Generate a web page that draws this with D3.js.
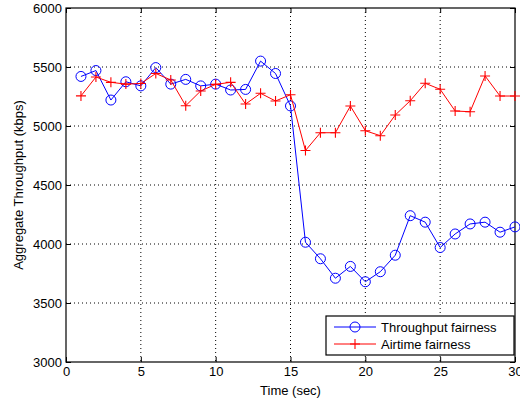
<!DOCTYPE html>
<html>
<head>
<meta charset="utf-8">
<script src="https://cdn.jsdelivr.net/npm/d3@7"></script>
<style>
  body { margin: 0; background: #fff; }
  text { font-family: "Liberation Sans", Arial, Helvetica, sans-serif; }
</style>
</head>
<body>
<div id="chart"></div>
<script>
// time axis values (sec)
var times = d3.range(1, 31);

// Throughput fairness (kbps)
var throughputFair = [5420, 5470, 5220, 5375, 5340, 5495, 5355, 5395, 5340, 5355,
                      5305, 5310, 5550, 5445, 5170, 4015, 3875, 3710, 3810, 3680,
                      3765, 3905, 4240, 4185, 3970, 4085, 4170, 4185, 4100, 4145];

// Airtime fairness (kbps)
var airtimeFair = [5255, 5415, 5370, 5355, 5360, 5445, 5390, 5172, 5297, 5353,
                   5370, 5186, 5277, 5212, 5265, 4792, 4943, 4943, 5169, 4960,
                   4918, 5093, 5214, 5362, 5311, 5127, 5121, 5424, 5254, 5254];

var xTicks = [0, 5, 10, 15, 20, 25, 30];
var yTicks = [3000, 3500, 4000, 4500, 5000, 5500, 6000];

var series = [
  { name: "Throughput fairness", values: throughputFair, color: "#0000ff", marker: "circle" },
  { name: "Airtime fairness", values: airtimeFair, color: "#ff0000", marker: "plus" }
];

var svgWidth = 520, svgHeight = 402;
var margin = { top: 8, right: 5, bottom: 40, left: 66 };
var width = svgWidth - margin.left - margin.right;
var height = svgHeight - margin.top - margin.bottom;

var svg = d3.select("#chart").append("svg")
  .attr("width", svgWidth)
  .attr("height", svgHeight);

var chartGroup = svg.append("g")
  .attr("transform", `translate(${margin.left}, ${margin.top})`);

var xScale = d3.scaleLinear().domain([0, 30]).range([0, width]);
var yScale = d3.scaleLinear().domain([3000, 6000]).range([height, 0]);

// grid lines (dotted)
chartGroup.append("g").selectAll("line")
  .data(xTicks.slice(1, -1))
  .enter().append("line")
  .attr("x1", d => xScale(d)).attr("x2", d => xScale(d))
  .attr("y1", 0).attr("y2", height)
  .attr("stroke", "#000").attr("stroke-width", 1)
  .attr("stroke-dasharray", "1,3");

chartGroup.append("g").selectAll("line")
  .data(yTicks.slice(1, -1))
  .enter().append("line")
  .attr("y1", d => yScale(d)).attr("y2", d => yScale(d))
  .attr("x1", 0).attr("x2", width)
  .attr("stroke", "#000").attr("stroke-width", 1)
  .attr("stroke-dasharray", "1,3");

// axes with inward ticks
var fmt = d3.format("d");
var bottomAxis = d3.axisBottom(xScale).tickValues(xTicks).tickFormat(fmt).tickSizeInner(-5).tickSizeOuter(0).tickPadding(5);
var leftAxis = d3.axisLeft(yScale).tickValues(yTicks).tickFormat(fmt).tickSizeInner(-5).tickSizeOuter(0).tickPadding(4);
var topAxis = d3.axisTop(xScale).tickValues(xTicks).tickSizeInner(-5).tickSizeOuter(0).tickFormat("");
var rightAxis = d3.axisRight(yScale).tickValues(yTicks).tickSizeInner(-5).tickSizeOuter(0).tickFormat("");

var gx = chartGroup.append("g").attr("transform", `translate(0, ${height})`).call(bottomAxis);
var gy = chartGroup.append("g").call(leftAxis);
var gt = chartGroup.append("g").call(topAxis);
var gr = chartGroup.append("g").attr("transform", `translate(${width}, 0)`).call(rightAxis);

[gx, gy, gt, gr].forEach(function(g) {
  g.select(".domain").remove();
  g.selectAll("text").attr("font-size", 13).attr("fill", "#000")
    .style("font-family", "'Liberation Sans', Arial, sans-serif");
  g.selectAll("line").attr("stroke", "#000");
});

// frame
chartGroup.append("rect")
  .attr("width", width).attr("height", height)
  .attr("fill", "none").attr("stroke", "#000").attr("stroke-width", 1.2);

// lines + markers
var line = d3.line()
  .x((d, i) => xScale(times[i]))
  .y(d => yScale(d));

function drawMarker(g, type, color, cx, cy) {
  if (type === "circle") {
    g.append("circle").attr("cx", cx).attr("cy", cy).attr("r", 5)
      .attr("fill", "none").attr("stroke", color).attr("stroke-width", 1);
  } else {
    g.append("path").attr("d", `M${cx - 5},${cy}H${cx + 5}M${cx},${cy - 5}V${cy + 5}`)
      .attr("stroke", color).attr("stroke-width", 1.1).attr("fill", "none");
  }
}

series.forEach(function(s) {
  chartGroup.append("path")
    .datum(s.values)
    .attr("d", line)
    .attr("fill", "none")
    .attr("stroke", s.color)
    .attr("stroke-width", 1);
  var mg = chartGroup.append("g");
  s.values.forEach(function(v, i) {
    drawMarker(mg, s.marker, s.color, xScale(times[i]), yScale(v));
  });
});

// legend
var legend = chartGroup.append("g")
  .attr("transform", `translate(${width - 189}, ${height - 46})`);
legend.append("rect")
  .attr("width", 188).attr("height", 39)
  .attr("fill", "#fff").attr("stroke", "#000").attr("stroke-width", 1.2);
series.forEach(function(s, i) {
  var ly = 11 + i * 17;
  legend.append("line").attr("x1", 8).attr("x2", 50).attr("y1", ly).attr("y2", ly)
    .attr("stroke", s.color).attr("stroke-width", 1);
  drawMarker(legend, s.marker, s.color, 29, ly);
  legend.append("text").attr("x", 55).attr("y", ly).attr("dy", "0.35em")
    .attr("font-size", 13).text(s.name);
});

// axis labels
svg.append("text")
  .attr("x", margin.left + width / 2).attr("y", 395)
  .attr("text-anchor", "middle").attr("font-size", 13)
  .text("Time (sec)");

svg.append("text")
  .attr("transform", `translate(23, ${margin.top + height / 2}) rotate(-90)`)
  .attr("text-anchor", "middle").attr("font-size", 13)
  .text("Aggregate Throughput (kbps)");
</script>
</body>
</html>
